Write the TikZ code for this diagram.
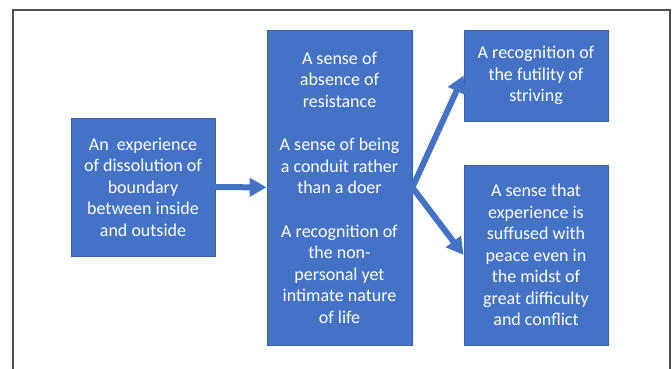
\documentclass[tikz,border=0pt]{standalone}
\usepackage{fontspec}
\setmainfont{Carlito}
\usepackage{tikz}
\usetikzlibrary{positioning, calc, arrows.meta}

\definecolor{boxblue}{HTML}{4472C4}
\definecolor{boxline}{HTML}{3A62AC}
\definecolor{framegray}{HTML}{505050}

\tikzset{
	box/.style={draw=boxline, line width=0.8pt, fill=boxblue, text=white, align=center, minimum width=144pt, inner sep=0pt, font=\fontsize{18}{21.5}\selectfont},
	flow/.style={draw=boxblue, line width=6pt, -{Triangle[length=17pt, width=18pt]}, shorten <=-0.5pt}
}

\begin{document}
\begin{tikzpicture}[x=1pt, y=1pt]
		
		\useasboundingbox (0,0) rectangle (672,369);
		\draw[framegray, line width=1.3pt] (13,0) -- (13,359) -- (670,359) -- (670,0);
		
		\node[box, minimum height=138pt] (exp) at (143,182) {An\ \ experience\\ of dissolution of\\ boundary\\ between inside\\ and outside};
		
		\node[box, minimum height=315pt, minimum width=145pt] (sense) at (339.5,181.5) {A sense of\\ absence of\\ resistance\\[22pt] A sense of being\\ a conduit rather\\ than a doer\\[22pt] A recognition of\\ the non-\\ personal yet\\ intimate nature\\ of life};
		\draw[flow] (exp) -- (sense);
		
		\node[box, minimum height=91pt] (futility) at (536,293.5) {A recognition of\\ the futility of\\ striving};
		\node[box, minimum height=180pt] (peace) at (536,114) {A sense that\\ experience is\\ suffused with\\ peace even in\\ the midst of\\ great difficulty\\ and conflict};
		
		\draw[flow] (sense.east) -- (futility.west);
		\draw[flow] (sense.east) -- (peace.west);

\end{tikzpicture}
\end{document}
